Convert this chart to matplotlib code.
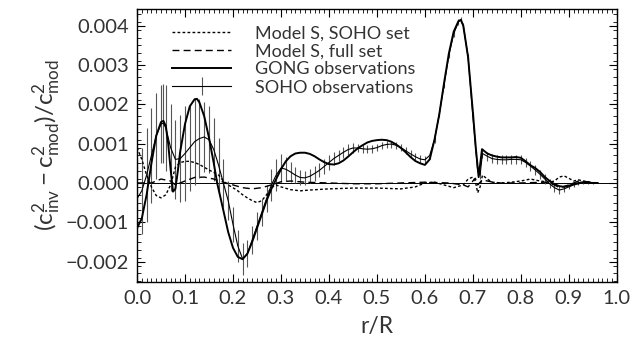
import matplotlib
matplotlib.use("Agg")
import matplotlib.pyplot as plt
from matplotlib import font_manager

# ---------------- data (values in units of 1e-3) ----------------
gong_r = [0.000, 0.010, 0.020, 0.030, 0.040, 0.050, 0.055, 0.060, 0.065, 0.070,
          0.075, 0.080, 0.085, 0.090, 0.100, 0.110, 0.120, 0.125, 0.130, 0.140,
          0.150, 0.160, 0.167, 0.180, 0.190, 0.200, 0.210, 0.220, 0.230, 0.240,
          0.250, 0.260, 0.270, 0.280, 0.290, 0.300, 0.310, 0.320, 0.330, 0.340,
          0.350, 0.360, 0.370, 0.380, 0.390, 0.400, 0.410, 0.420, 0.430, 0.440,
          0.450, 0.460, 0.470, 0.480, 0.490, 0.500, 0.510, 0.520, 0.530, 0.540,
          0.550, 0.560, 0.570, 0.580, 0.590, 0.600, 0.610, 0.620, 0.630, 0.640,
          0.650, 0.660, 0.670, 0.675, 0.680, 0.690, 0.700, 0.706, 0.712, 0.719,
          0.730, 0.740, 0.750, 0.760, 0.770, 0.780, 0.790, 0.800, 0.810, 0.820,
          0.830, 0.840, 0.850, 0.860, 0.870, 0.880, 0.890, 0.900, 0.910, 0.920,
          0.930, 0.940, 0.950, 0.960]
gong_v = [-1.15, -0.90, -0.30, 0.50, 1.20, 1.55, 1.58, 1.45, 1.00, 0.35,
          -0.22, -0.15, 0.30, 0.80, 1.50, 1.95, 2.13, 2.14, 2.05, 1.70,
          1.15, 0.50, 0.00, -0.70, -1.25, -1.65, -1.88, -1.94, -1.80, -1.50,
          -1.15, -0.80, -0.45, -0.15, 0.10, 0.35, 0.55, 0.68, 0.75, 0.77,
          0.77, 0.74, 0.68, 0.60, 0.53, 0.48, 0.47, 0.50, 0.57, 0.67,
          0.78, 0.88, 0.96, 1.03, 1.07, 1.09, 1.10, 1.09, 1.05, 0.98,
          0.89, 0.78, 0.66, 0.56, 0.50, 0.46, 0.60, 1.10, 1.75, 2.55,
          3.30, 3.85, 4.12, 4.15, 4.00, 3.20, 1.80, 0.90, 0.15, 0.86,
          0.75, 0.70, 0.67, 0.65, 0.65, 0.65, 0.66, 0.64, 0.55, 0.45,
          0.38, 0.28, 0.15, 0.05, -0.03, -0.08, -0.10, -0.07, -0.03, 0.00,
          0.02, 0.01, 0.00, 0.00]

soho_r = [0.000, 0.010, 0.020, 0.030, 0.040, 0.050, 0.055, 0.060, 0.070, 0.080,
          0.090, 0.100, 0.110, 0.120, 0.130, 0.140, 0.150, 0.160, 0.170, 0.180,
          0.190, 0.200, 0.210, 0.220, 0.230, 0.240, 0.250, 0.260, 0.270, 0.280,
          0.290, 0.300, 0.310, 0.320, 0.330, 0.340, 0.350, 0.360, 0.370, 0.380,
          0.390, 0.400, 0.410, 0.420, 0.430, 0.440, 0.450, 0.460, 0.470, 0.480,
          0.490, 0.500, 0.510, 0.520, 0.530, 0.540, 0.550, 0.560, 0.570, 0.580,
          0.590, 0.600, 0.610, 0.620, 0.630, 0.640, 0.650, 0.660, 0.670, 0.675,
          0.680, 0.690, 0.700, 0.710, 0.715, 0.720, 0.730, 0.740, 0.750, 0.760,
          0.770, 0.780, 0.790, 0.800, 0.810, 0.820, 0.830, 0.840, 0.850, 0.860,
          0.870, 0.880, 0.890, 0.900, 0.910, 0.920, 0.930, 0.940, 0.950]
soho_v = [-0.40, -0.20, 0.20, 0.70, 1.20, 1.50, 1.52, 1.40, 0.90, 0.60,
          0.62, 0.75, 0.90, 1.05, 1.13, 1.17, 1.10, 0.85, 0.45, 0.00,
          -0.45, -1.05, -1.60, -1.93, -1.80, -1.45, -1.10, -0.75, -0.40, -0.05,
          0.20, 0.38, 0.35, 0.28, 0.20, 0.14, 0.13, 0.17, 0.24, 0.32,
          0.42, 0.52, 0.62, 0.70, 0.78, 0.85, 0.89, 0.89, 0.87, 0.86,
          0.87, 0.90, 0.95, 0.98, 0.99, 0.96, 0.90, 0.82, 0.74, 0.67,
          0.61, 0.59, 0.70, 1.10, 1.75, 2.50, 3.25, 3.80, 4.10, 4.15,
          4.00, 3.20, 1.70, 0.30, 0.20, 0.75, 0.68, 0.62, 0.60, 0.59,
          0.59, 0.60, 0.60, 0.59, 0.52, 0.43, 0.33, 0.22, 0.10, -0.02,
          -0.12, -0.18, -0.15, -0.10, -0.05, -0.02, 0.00, 0.00, 0.00]
soho_err = [1.00, 1.10, 1.20, 1.20, 1.10, 1.00, 1.00, 1.10, 1.10, 1.00,
            1.10, 1.20, 1.10, 1.10, 1.00, 0.90, 0.85, 0.80, 0.70, 0.60,
            0.50, 0.45, 0.40, 0.40, 0.35, 0.35, 0.35, 0.35, 0.35, 0.40,
            0.40, 0.35, 0.30, 0.25, 0.20, 0.18, 0.18, 0.18, 0.18, 0.18,
            0.18, 0.18, 0.16, 0.15, 0.14, 0.13, 0.12, 0.11, 0.10, 0.10,
            0.10, 0.09, 0.09, 0.09, 0.09, 0.09, 0.09, 0.09, 0.09, 0.09,
            0.09, 0.09, 0.08, 0.08, 0.08, 0.08, 0.08, 0.08, 0.08, 0.08,
            0.08, 0.08, 0.10, 0.10, 0.10, 0.12, 0.12, 0.12, 0.12, 0.12,
            0.12, 0.12, 0.12, 0.12, 0.12, 0.12, 0.12, 0.12, 0.12, 0.12,
            0.10, 0.10, 0.08, 0.06, 0.05, 0.04, 0.03, 0.03, 0.03]

modS_soho_r = [0.000, 0.010, 0.020, 0.030, 0.040, 0.050, 0.060, 0.070, 0.080, 0.090,
               0.100, 0.110, 0.120, 0.130, 0.140, 0.150, 0.160, 0.170, 0.180, 0.190,
               0.200, 0.210, 0.220, 0.230, 0.240, 0.250, 0.260, 0.270, 0.280, 0.290,
               0.300, 0.320, 0.340, 0.360, 0.400, 0.450, 0.500, 0.550, 0.580, 0.600,
               0.620, 0.640, 0.660, 0.680, 0.690, 0.700, 0.705, 0.710, 0.715, 0.720,
               0.730, 0.740, 0.760, 0.780, 0.800, 0.820, 0.840, 0.860, 0.870, 0.880,
               0.890, 0.900, 0.910, 0.920, 0.930, 0.950, 0.960]
modS_soho_v = [0.90, 0.60, 0.20, -0.10, -0.32, -0.38, -0.30, -0.05, 0.40, 0.52,
               0.55, 0.55, 0.52, 0.47, 0.40, 0.33, 0.27, 0.20, 0.05, -0.05,
               -0.12, -0.20, -0.30, -0.38, -0.45, -0.50, -0.45, -0.30, -0.12, -0.05,
               -0.10, -0.17, -0.20, -0.18, -0.15, -0.13, -0.13, -0.15, -0.10, 0.00,
               0.02, -0.05, -0.12, -0.05, 0.10, 0.15, 0.05, -0.25, -0.10, 0.20,
               0.10, 0.02, 0.00, 0.02, 0.05, 0.10, 0.05, 0.02, 0.05, 0.15,
               0.18, 0.12, 0.05, 0.08, 0.05, 0.00, 0.00]

modS_full_r = [0.000, 0.030, 0.050, 0.070, 0.080, 0.100, 0.120, 0.140, 0.160, 0.180,
               0.200, 0.220, 0.240, 0.260, 0.280, 0.300, 0.320, 0.350, 0.400, 0.450,
               0.500, 0.550, 0.600, 0.650, 0.680, 0.690, 0.700, 0.705, 0.710, 0.720,
               0.730, 0.750, 0.800, 0.850, 0.870, 0.880, 0.900, 0.920, 0.940, 0.960]
modS_full_v = [0.00, 0.00, 0.10, 0.05, -0.05, 0.05, 0.14, 0.15, 0.10, 0.02,
               -0.05, -0.12, -0.15, -0.12, -0.05, 0.03, 0.05, 0.02, 0.00, -0.02,
               -0.02, 0.00, 0.02, 0.00, -0.05, -0.10, 0.05, 0.12, -0.05, 0.08,
               0.05, 0.00, 0.00, 0.02, -0.05, -0.12, -0.05, 0.05, 0.03, 0.00]

labels = ["Model S, SOHO set", "Model S, full set",
          "GONG observations", "SOHO observations"]
x_ticks = [0.0, 0.1, 0.2, 0.3, 0.4, 0.5, 0.6, 0.7, 0.8, 0.9, 1.0]
y_ticks = [-0.002, -0.001, 0.000, 0.001, 0.002, 0.003, 0.004]

SCALE = 1e-3

# ---------------- style ----------------
fam = "DejaVu Sans"
names = {f.name for f in font_manager.fontManager.ttflist}
for cand in ["Lato", "Open Sans"]:
    if cand in names:
        fam = cand
        break
plt.rcParams["font.family"] = [fam, "DejaVu Sans"]
plt.rcParams["mathtext.fontset"] = "custom"
plt.rcParams["mathtext.rm"] = fam
plt.rcParams["mathtext.it"] = fam
plt.rcParams["mathtext.default"] = "regular"

TXT = "#333333"

fig = plt.figure(figsize=(6.32, 3.41), dpi=100)
ax = fig.add_axes([0.2168, 0.173, 0.976 - 0.2168, 0.974 - 0.173])

ax.axhline(0, color="black", lw=0.7, zorder=1)

l1, = ax.plot(modS_soho_r, [v * SCALE for v in modS_soho_v], color="black",
              lw=1.0, dashes=(2.0, 1.6), label=labels[0], zorder=3)
l2, = ax.plot(modS_full_r, [v * SCALE for v in modS_full_v], color="black",
              lw=1.0, dashes=(5.0, 3.0), label=labels[1], zorder=3)
l3, = ax.plot(gong_r, [v * SCALE for v in gong_v], color="black",
              lw=1.4, label=labels[2], zorder=4)
eb = ax.errorbar(soho_r, [v * SCALE for v in soho_v],
                 yerr=[e * SCALE for e in soho_err], color="black", lw=0.8,
                 ecolor="#555555", elinewidth=0.8, capsize=0,
                 label=labels[3], zorder=2)

ax.set_xlim(0.0, 1.0)
ax.set_ylim(-0.00252, 0.00443)
ax.set_xticks(x_ticks)
ax.set_xticklabels([f"{t:.1f}" for t in x_ticks])
ax.set_yticks(y_ticks)
ax.set_yticklabels([f"{t:.3f}".replace("-", "\u2212") for t in y_ticks])
ax.set_xticks([i / 100 for i in range(0, 101)], minor=True)
ax.set_yticks([(-25 + 2 * i) * 1e-4 for i in range(0, 35)], minor=True)
ax.tick_params(which="both", direction="in", top=True, right=True,
               labelsize=14.5, colors="black", labelcolor=TXT)
ax.tick_params(which="major", length=6, width=0.8, pad=6)
ax.tick_params(which="minor", length=3, width=0.6)
for s in ax.spines.values():
    s.set_linewidth(1.0)

ax.set_xlabel("r/R", fontsize=16.5, labelpad=6, color=TXT)
ax.set_ylabel(r"$(c^2_{inv} - c^2_{mod})/c^2_{mod}$", fontsize=17.5,
              labelpad=1, color=TXT)

leg = ax.legend(handles=[l1, l2, l3, eb], labels=labels, loc="upper left",
                bbox_to_anchor=(0.05, 0.98), frameon=False, fontsize=13,
                handlelength=3.3, handletextpad=1.3, labelspacing=0.12,
                borderaxespad=0.2)
for t in leg.get_texts():
    t.set_color(TXT)

fig.savefig("out.png", dpi=100)
